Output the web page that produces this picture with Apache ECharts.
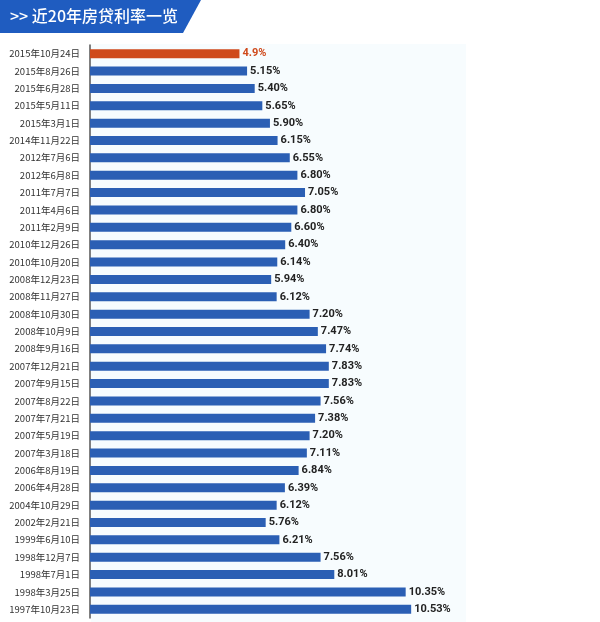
<!DOCTYPE html>
<html>
<head>
<meta charset="utf-8">
<script src="https://cdn.jsdelivr.net/npm/echarts@6/dist/echarts.min.js"></script>
<style>
html,body{margin:0;padding:0;background:#fff;}
#c{width:600px;height:622px;}
</style>
</head>
<body>
<div id="c"></div>
<script>
var titleText = '>> 近20年房贷利率一览';
var categories = ['2015年10月24日','2015年8月26日','2015年6月28日','2015年5月11日','2015年3月1日','2014年11月22日','2012年7月6日','2012年6月8日','2011年7月7日','2011年4月6日','2011年2月9日','2010年12月26日','2010年10月20日','2008年12月23日','2008年11月27日','2008年10月30日','2008年10月9日','2008年9月16日','2007年12月21日','2007年9月15日','2007年8月22日','2007年7月21日','2007年5月19日','2007年3月18日','2006年8月19日','2006年4月28日','2004年10月29日','2002年2月21日','1999年6月10日','1998年12月7日','1998年7月1日','1998年3月25日','1997年10月23日'];
var rates = [4.9,5.15,5.40,5.65,5.90,6.15,6.55,6.80,7.05,6.80,6.60,6.40,6.14,5.94,6.12,7.20,7.47,7.74,7.83,7.83,7.56,7.38,7.20,7.11,6.84,6.39,6.12,5.76,6.21,7.56,8.01,10.35,10.53];
var rateLabels = ['4.9%','5.15%','5.40%','5.65%','5.90%','6.15%','6.55%','6.80%','7.05%','6.80%','6.60%','6.40%','6.14%','5.94%','6.12%','7.20%','7.47%','7.74%','7.83%','7.83%','7.56%','7.38%','7.20%','7.11%','6.84%','6.39%','6.12%','5.76%','6.21%','7.56%','8.01%','10.35%','10.53%'];

var BLUE = '#2b5fb4', ORANGE = '#cf4a1c';
var chart = echarts.init(document.getElementById('c'), null, {renderer:'canvas'});
var data = rates.map(function(v, i){
  var hi = i === 0;
  return {
    value: v,
    itemStyle: {color: hi ? ORANGE : BLUE},
    label: {color: hi ? ORANGE : '#222', formatter: rateLabels[i]}
  };
});
chart.setOption({
  backgroundColor: '#ffffff',
  animation: false,
  graphic: [
    {type:'rect', z:-10, silent:true, shape:{x:91,y:44,width:375,height:578}, style:{fill:'#f7fcfe'}},
    {type:'polygon', shape:{points:[[0,0],[201,0],[183,33],[0,33]]}, style:{fill:'#1f5cc0'}},
    {type:'text', left:10, top:8, style:{text:titleText, fill:'#ffffff', font:'500 16px "Noto Sans CJK SC", sans-serif'}}
  ],
  grid: {left: 90, top: 45, width: 488, height: 573, containLabel: false},
  xAxis: {type:'value', min:0, max:16, show:false},
  yAxis: {
    type:'category', data: categories, inverse:true,
    axisLine:{show:true, lineStyle:{color:'#555', width:1.5}},
    axisTick:{show:false},
    axisLabel:{color:'#333', fontSize:9.5, margin:10, fontFamily:'"Noto Sans CJK SC", sans-serif'}
  },
  series: [{
    type:'bar', data: data, barWidth: 9,
    label:{show:true, position:'right', distance:3, fontSize:11, fontWeight:'bold', fontFamily:'Roboto, "Noto Sans", sans-serif'}
  }]
});
</script>
</body>
</html>
